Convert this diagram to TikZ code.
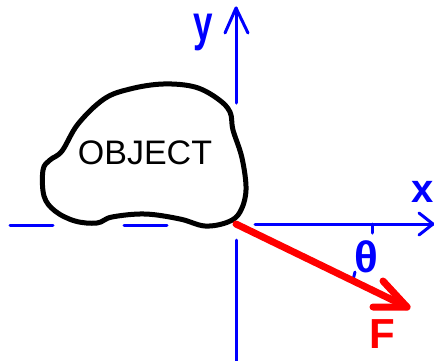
\documentclass[tikz,border=0pt]{standalone}
\usepackage{fontspec}
\setmainfont{Liberation Sans}
\definecolor{penblue}{RGB}{0,0,255}
\definecolor{penred}{RGB}{255,0,0}
\begin{document}
\begin{tikzpicture}[x=1pt,y=-1pt,
  axis/.style={penblue,line width=3pt,line cap=round,line join=round},
  blob/.style={black,line width=5pt,line join=round},
  force/.style={penred,line width=7pt,line cap=round,line join=round},
  lbl/.style={inner sep=0pt,outer sep=0pt}]
\useasboundingbox (0,0) rectangle (434,360);
% coordinates
\coordinate (O) at (236,224);
\coordinate (ytip) at (236,8);
\coordinate (yl) at (225,33);
\coordinate (yr) at (248,33);
\coordinate (ytop) at (236,103);
\coordinate (ylow) at (236,240);
\coordinate (ybot) at (236,362);
\coordinate (xstart) at (255,224);
\coordinate (xtip) at (433,224);
\coordinate (xu) at (419,213);
\coordinate (xd) at (419,235);
\coordinate (d1a) at (10,225);
\coordinate (d1b) at (53,225);
\coordinate (d2a) at (124,225);
\coordinate (d2b) at (167,225);
\coordinate (ftip) at (407,307);
\coordinate (fu) at (383,281);
\coordinate (fd) at (373,307);
\coordinate (t1a) at (372,224);
\coordinate (t1b) at (372,233);
\coordinate (t2a) at (355,272);
\coordinate (t2b) at (353,280);
% axes
\draw[axis] (ytop) -- (ytip);
\draw[axis] (yl) -- (ytip) -- (yr);
\draw[axis] (ylow) -- (ybot);
\draw[axis] (xstart) -- (xtip);
\draw[axis] (xu) -- (xtip) -- (xd);
\draw[axis] (d1a) -- (d1b);
\draw[axis] (d2a) -- (d2b);
% angle marks
\draw[axis] (t1a) -- (t1b);
\draw[axis] (t2a) -- (t2b);
% object
\draw[blob] plot[smooth cycle,tension=0.6] coordinates {
 (163,84) (195,87) (218,99) (230,112) (233,130) (242,158) (246,190)
 (240,212) (228,222) (205,226) (180,219) (145,214) (112,217) (97,223)
 (75,221) (55,211) (44,196) (43,170) (50,160) (62,151) (78,124)
 (104,99) (130,89)};
\node[lbl] (obj) at (145,153) {\fontsize{34}{36}\selectfont OBJECT};
% force
\draw[force] (O) -- (ftip);
\draw[force] (fu) -- (ftip) -- (fd);
% labels
\node[lbl,anchor=base,penblue,xscale=0.7] (ylab) at (203,40) {\fontsize{50}{52}\selectfont\bfseries y};
\node[lbl,anchor=base,penblue] (xlab) at (423,202) {\fontsize{40}{42}\selectfont\bfseries x};
\node[lbl,penblue] (theta) at (366,257) {\fontsize{44}{46}\selectfont\bfseries θ};
\node[lbl,penred] (F) at (382,334) {\fontsize{42}{44}\selectfont\bfseries F};
\end{tikzpicture}
\end{document}
